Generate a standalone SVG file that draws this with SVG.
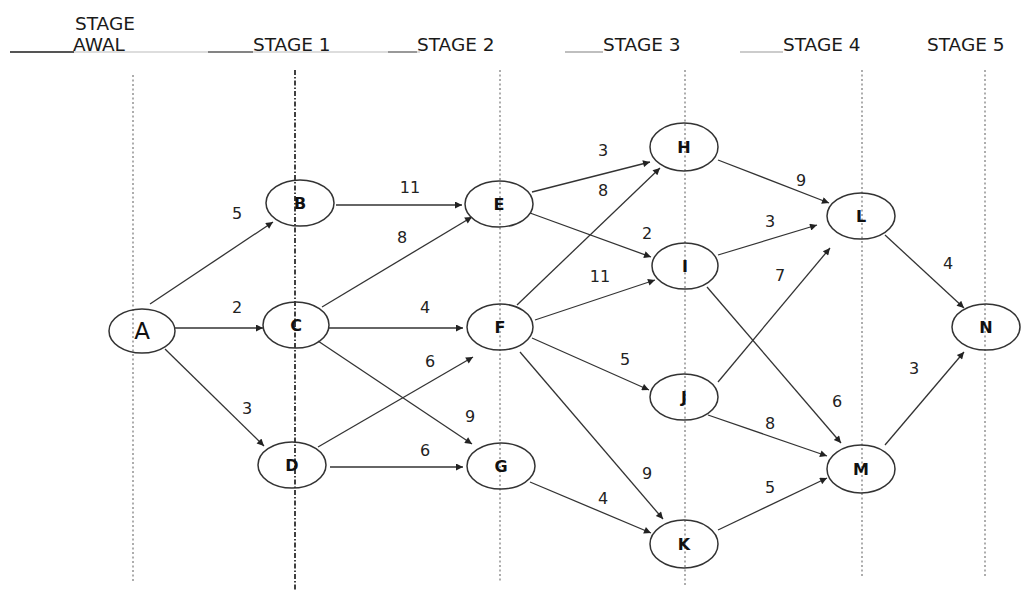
<svg xmlns="http://www.w3.org/2000/svg" width="1027" height="594" viewBox="0 0 1027 594">
<defs>
<style>
.hdr{font-family:"DejaVu Sans",Verdana,sans-serif;font-size:18.5px;fill:#1a1a1a}
.stage{stroke:#999;stroke-width:1.6;stroke-dasharray:2 2.5;fill:none}
.stage1{stroke:#111;stroke-width:1.6;stroke-dasharray:5 2 1.5 2;fill:none}
.node ellipse{fill:none;stroke:#333;stroke-width:1.5}
.lbl{font-family:"DejaVu Sans",Verdana,sans-serif;font-size:16px;font-weight:bold;fill:#111;text-anchor:middle;dominant-baseline:central}
.edge{stroke:#333;stroke-width:1.3;fill:none;marker-end:url(#arr)}
.w{font-family:"DejaVu Sans",Verdana,sans-serif;font-size:16px;fill:#222;text-anchor:middle;dominant-baseline:central}
</style>
<marker id="arr" viewBox="0 0 10 10" refX="10" refY="5" markerWidth="9" markerHeight="7" markerUnits="userSpaceOnUse" orient="auto">
<path d="M0,0 L10,5 L0,10 z" fill="#222"/>
</marker>
</defs>
<rect width="1027" height="594" fill="#fff"/>
<g id="header">
<line x1="10" y1="52" x2="420" y2="52" stroke="#bbb" stroke-width="1.2"/>
<line x1="10" y1="52" x2="74" y2="52" stroke="#555" stroke-width="1.8"/>
<line x1="208" y1="52" x2="253" y2="52" stroke="#666" stroke-width="1.6"/>
<line x1="388" y1="52" x2="417" y2="52" stroke="#888" stroke-width="1.6"/>
<line x1="565" y1="52" x2="603" y2="52" stroke="#aaa" stroke-width="1.6"/>
<line x1="740" y1="52" x2="783" y2="52" stroke="#bbb" stroke-width="1.6"/>
<text class="hdr" x="75" y="30">STAGE</text>
<text class="hdr" x="73" y="51">AWAL</text>
<text class="hdr" x="253" y="51">STAGE 1</text>
<text class="hdr" x="417" y="51">STAGE 2</text>
<text class="hdr" x="603" y="51">STAGE 3</text>
<text class="hdr" x="783" y="51">STAGE 4</text>
<text class="hdr" x="927" y="51">STAGE 5</text>
</g>
<g id="stage-lines">
<line class="stage" x1="133" y1="75" x2="133" y2="582"/>
<line class="stage1" x1="295" y1="70" x2="295" y2="590"/>
<line class="stage" x1="500" y1="70" x2="500" y2="582"/>
<line class="stage" x1="685" y1="70" x2="685" y2="585"/>
<line class="stage" x1="862" y1="70" x2="862" y2="578"/>
<line class="stage" x1="985" y1="70" x2="985" y2="578"/>
</g>
<g id="connectors">
<line class="edge" x1="150" y1="304" x2="273" y2="222"/>
<line class="edge" x1="175" y1="328" x2="263" y2="328"/>
<line class="edge" x1="165" y1="349" x2="264" y2="446"/>
<line class="edge" x1="336" y1="205" x2="462" y2="205"/>
<line class="edge" x1="322" y1="307" x2="472" y2="217"/>
<line class="edge" x1="329" y1="328" x2="463" y2="328"/>
<line class="edge" x1="318" y1="341" x2="472" y2="444"/>
<line class="edge" x1="318" y1="447" x2="473" y2="357"/>
<line class="edge" x1="330" y1="467" x2="463" y2="467"/>
<line class="edge" x1="532" y1="192" x2="650" y2="162"/>
<line class="edge" x1="517" y1="305" x2="660" y2="168"/>
<line class="edge" x1="530" y1="213" x2="651" y2="257"/>
<line class="edge" x1="535" y1="320" x2="655" y2="280"/>
<line class="edge" x1="532" y1="338" x2="649" y2="390"/>
<line class="edge" x1="520" y1="352" x2="663" y2="519"/>
<line class="edge" x1="530" y1="482" x2="651" y2="533"/>
<line class="edge" x1="718" y1="160" x2="829" y2="203"/>
<line class="edge" x1="718" y1="255" x2="817" y2="225"/>
<line class="edge" x1="718" y1="382" x2="830" y2="248"/>
<line class="edge" x1="707" y1="287" x2="841" y2="443"/>
<line class="edge" x1="708" y1="415" x2="827" y2="456"/>
<line class="edge" x1="718" y1="530" x2="827" y2="478"/>
<line class="edge" x1="885" y1="235" x2="964" y2="308"/>
<line class="edge" x1="885" y1="445" x2="964" y2="352"/>
</g>
<g id="weights">
<text class="w" x="237" y="213">5</text>
<text class="w" x="237" y="307">2</text>
<text class="w" x="247" y="408">3</text>
<text class="w" x="410" y="187">11</text>
<text class="w" x="402" y="237">8</text>
<text class="w" x="425" y="307">4</text>
<text class="w" x="470" y="416">9</text>
<text class="w" x="430" y="361">6</text>
<text class="w" x="425" y="450">6</text>
<text class="w" x="603" y="150">3</text>
<text class="w" x="603" y="190">8</text>
<text class="w" x="647" y="233">2</text>
<text class="w" x="600" y="276">11</text>
<text class="w" x="625" y="359">5</text>
<text class="w" x="647" y="473">9</text>
<text class="w" x="603" y="498">4</text>
<text class="w" x="801" y="180">9</text>
<text class="w" x="770" y="221">3</text>
<text class="w" x="780" y="275">7</text>
<text class="w" x="837" y="401">6</text>
<text class="w" x="770" y="423">8</text>
<text class="w" x="770" y="487">5</text>
<text class="w" x="948" y="263">4</text>
<text class="w" x="914" y="368">3</text>
</g>
<g id="node-A" class="node"><ellipse cx="142" cy="331" rx="33" ry="22"/><text class="lbl" x="142" y="331" style="font-size:23px;font-weight:normal">A</text></g>
<g id="node-B" class="node"><ellipse cx="300" cy="203" rx="34" ry="23"/><text class="lbl" x="300" y="203">B</text></g>
<g id="node-C" class="node"><ellipse cx="296" cy="325" rx="33" ry="23"/><text class="lbl" x="296" y="325">C</text></g>
<g id="node-D" class="node"><ellipse cx="292" cy="465" rx="34" ry="23"/><text class="lbl" x="292" y="465">D</text></g>
<g id="node-E" class="node"><ellipse cx="499" cy="204" rx="34" ry="23"/><text class="lbl" x="499" y="204">E</text></g>
<g id="node-F" class="node"><ellipse cx="500" cy="327" rx="33" ry="23"/><text class="lbl" x="500" y="327">F</text></g>
<g id="node-G" class="node"><ellipse cx="501" cy="466" rx="34" ry="23"/><text class="lbl" x="501" y="466">G</text></g>
<g id="node-H" class="node"><ellipse cx="684" cy="147" rx="34" ry="24"/><text class="lbl" x="684" y="147">H</text></g>
<g id="node-I" class="node"><ellipse cx="685" cy="266" rx="33" ry="23"/><text class="lbl" x="685" y="266">I</text></g>
<g id="node-J" class="node"><ellipse cx="684" cy="397" rx="34" ry="23"/><text class="lbl" x="684" y="397">J</text></g>
<g id="node-K" class="node"><ellipse cx="684" cy="544" rx="34" ry="24"/><text class="lbl" x="684" y="544">K</text></g>
<g id="node-L" class="node"><ellipse cx="861" cy="216" rx="34" ry="23"/><text class="lbl" x="861" y="216">L</text></g>
<g id="node-M" class="node"><ellipse cx="861" cy="469" rx="34" ry="24"/><text class="lbl" x="861" y="469">M</text></g>
<g id="node-N" class="node"><ellipse cx="986" cy="327" rx="34" ry="23"/><text class="lbl" x="986" y="327">N</text></g>
</svg>
